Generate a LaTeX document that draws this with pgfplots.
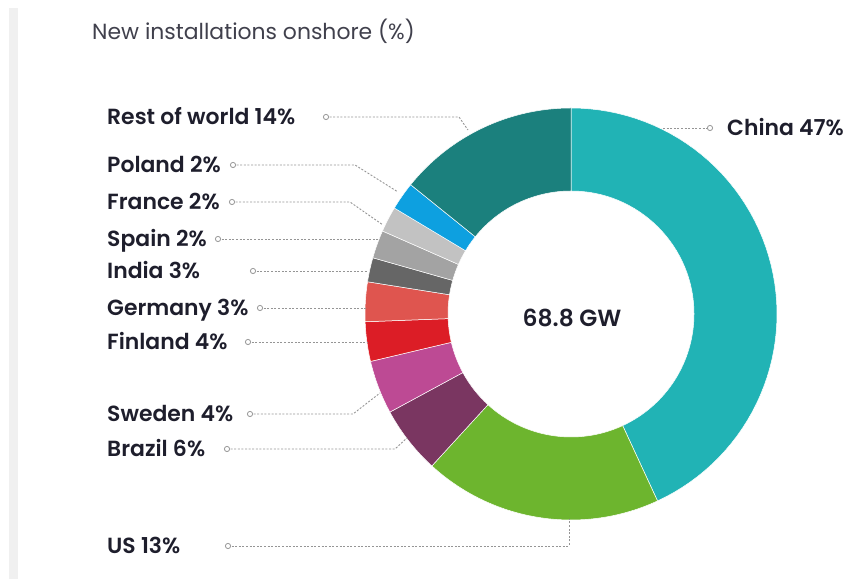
\documentclass[border=0pt]{standalone}
\usepackage{fontspec}
\setmainfont{Poppins}
\newfontfamily\labfont{Poppins SemiBold}
\usepackage{pgfplots}
\pgfplotsset{compat=1.18}
\definecolor{cChina}{HTML}{21B3B5}
\definecolor{cRow}{HTML}{1B807D}
\definecolor{cPoland}{HTML}{0DA0E0}
\definecolor{cFrance}{HTML}{C2C2C2}
\definecolor{cSpain}{HTML}{A3A3A3}
\definecolor{cIndia}{HTML}{666666}
\definecolor{cGermany}{HTML}{DF554F}
\definecolor{cFinland}{HTML}{DC1D26}
\definecolor{cSweden}{HTML}{BD4A94}
\definecolor{cBrazil}{HTML}{7A3661}
\definecolor{cUS}{HTML}{6DB52E}
\definecolor{txt}{HTML}{1E1E2C}
\definecolor{lead}{HTML}{959595}
% one ring slice: #1 cumulative share at start (%), #2 cumulative share at end (%), #3 colour
\newcommand\slice[3]{%
  \addplot[fill=#3, draw=white, line width=0.5bp, domain={90-3.6*(#2)}:{90-3.6*(#1)}, samples=60, variable=\t]
    ({571+206*cos(\t)},{265+206*sin(\t)})
    -- (axis cs:{571+123*cos(90-3.6*(#1))},{265+123*sin(90-3.6*(#1))})
    arc[start angle={90-3.6*(#1)}, end angle={90-3.6*(#2)}, radius=123bp] -- cycle;
}
\newcommand\leader[1]{\draw[draw=lead, line width=0.9bp, dash pattern=on 2bp off 1.6bp] #1;}
\newcommand\ring[2]{\draw[draw=lead, line width=0.8bp, fill=white] (axis cs:#1,#2) circle[radius=2.6bp];}
\tikzset{lbl/.style={anchor=base west, font=\labfont\fontsize{22}{25}\selectfont, text=txt, inner sep=0pt}}
\begin{document}
\begin{tikzpicture}
\begin{axis}[x=1bp, y=1bp, xmin=0, xmax=847, ymin=0, ymax=579, scale only axis,
  hide axis, clip=false]
\path[draw=none] (axis cs:0,0) rectangle (axis cs:847,579);
\fill[gray!12] (axis cs:9,0) rectangle (axis cs:18,571);
% shares as drawn (%): China 43.1, US 18.7, Brazil 5.3, Sweden 4.2, Finland 3.1,
% Germany 3.1, India 1.9, Spain 2.2, France 2.0, Poland 2.2, Rest of world 14.2
\slice{0}{43.1}{cChina}
\slice{43.1}{61.8}{cUS}
\slice{61.8}{67.1}{cBrazil}
\slice{67.1}{71.3}{cSweden}
\slice{71.3}{74.4}{cFinland}
\slice{74.4}{77.5}{cGermany}
\slice{77.5}{79.4}{cIndia}
\slice{79.4}{81.6}{cSpain}
\slice{81.6}{83.6}{cFrance}
\slice{83.6}{85.8}{cPoland}
\slice{85.8}{100}{cRow}
% title and centre
\node[anchor=base west, font=\fontsize{22}{25}\selectfont, text=txt!85, inner sep=0pt] at (axis cs:92,539) {New installations onshore (\%)};
\node[font=\labfont\fontsize{23.5}{26}\selectfont, text=txt, inner sep=0pt] at (axis cs:572,261) {68.8 GW};
% leaders
\leader{(axis cs:326,462) -- (axis cs:459,462) -- (axis cs:468,449)}
\leader{(axis cs:233,414) -- (axis cs:355,414) -- (axis cs:398,387)}
\leader{(axis cs:232,377) -- (axis cs:350,377) -- (axis cs:383,354)}
\leader{(axis cs:218,340) -- (axis cs:378,340)}
\leader{(axis cs:253,308) -- (axis cs:368,308)}
\leader{(axis cs:260,271) -- (axis cs:366,271)}
\leader{(axis cs:248,237) -- (axis cs:367,237)}
\leader{(axis cs:250,165) -- (axis cs:353,165) -- (axis cs:380,186)}
\leader{(axis cs:227,130) -- (axis cs:395,130) -- (axis cs:407,141)}
\leader{(axis cs:228,33) -- (axis cs:569,33) -- (axis cs:569,60)}
\leader{(axis cs:663,451) -- (axis cs:710,451)}
\ring{326}{462}\ring{233}{414}\ring{232}{377}\ring{218}{340}\ring{253}{308}
\ring{260}{271}\ring{248}{237}\ring{250}{165}\ring{227}{130}\ring{228}{33}\ring{710}{451}
% labels
\node[lbl] at (axis cs:107,454) {Rest of world 14\%};
\node[lbl] at (axis cs:107,406) {Poland 2\%};
\node[lbl] at (axis cs:107,369) {France 2\%};
\node[lbl] at (axis cs:107,332) {Spain 2\%};
\node[lbl] at (axis cs:107,300) {India 3\%};
\node[lbl] at (axis cs:107,263) {Germany 3\%};
\node[lbl] at (axis cs:107,229) {Finland 4\%};
\node[lbl] at (axis cs:107,157) {Sweden 4\%};
\node[lbl] at (axis cs:107,122) {Brazil 6\%};
\node[lbl] at (axis cs:107,25) {US 13\%};
\node[lbl] at (axis cs:727,443) {China 47\%};
\end{axis}
\end{tikzpicture}
\end{document}
